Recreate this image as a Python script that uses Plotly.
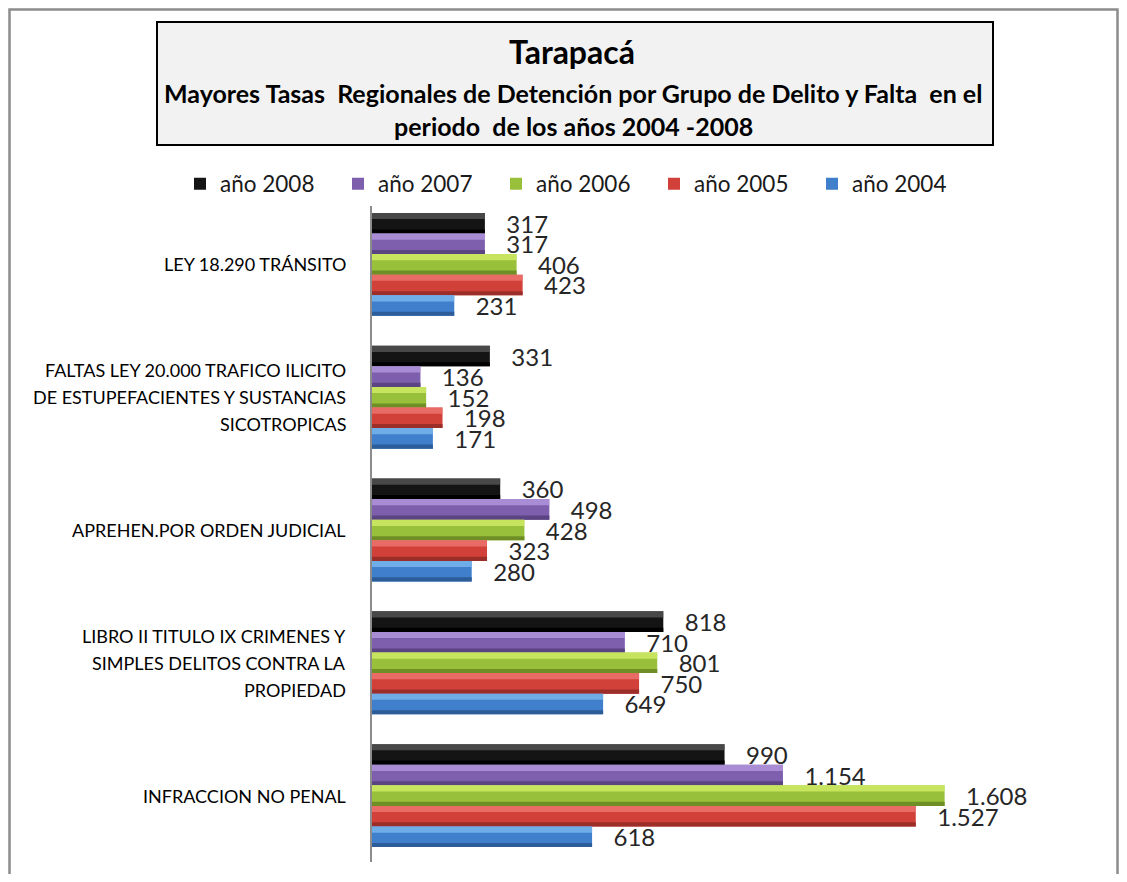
import plotly.graph_objects as go

# categories, top to bottom
categories = [
    "LEY 18.290 TRÁNSITO",
    "FALTAS LEY 20.000 TRAFICO ILICITO\nDE ESTUPEFACIENTES Y SUSTANCIAS\nSICOTROPICAS",
    "APREHEN.POR ORDEN JUDICIAL",
    "LIBRO II TITULO IX CRIMENES Y\nSIMPLES DELITOS CONTRA LA\nPROPIEDAD",
    "INFRACCION NO PENAL",
]
years = ["año 2008", "año 2007", "año 2006", "año 2005", "año 2004"]

v2008 = [317, 331, 360, 818, 990]
v2007 = [317, 136, 498, 710, 1154]
v2006 = [406, 152, 428, 801, 1608]
v2005 = [423, 198, 323, 750, 1527]
v2004 = [231, 171, 280, 649, 618]
series = [v2008, v2007, v2006, v2005, v2004]

# (light top, body, dark bottom) to fake the bevelled Excel bars
colors = [
    ("#5a5a5a", "#141414", "#000000"),
    ("#b79ce0", "#7e5fae", "#5b4482"),
    ("#d6f06a", "#98c03a", "#6f8f26"),
    ("#f07a74", "#d2403a", "#9c2e2a"),
    ("#7fbcf2", "#3f7fcc", "#2c5d99"),
]

FONT = "Lato, 'Open Sans', sans-serif"
PAGE = 8  # body margin of the html page
W, H = 1127 - 2 * PAGE, 882 - 2 * PAGE
# plot area in page pixels
PL, PR, PT, PB = 372, 1060, 198, 862
L, T = PL - PAGE, PT - PAGE
R, B = W - (PR - PAGE), H - (PB - PAGE)
PW, PH = PR - PL, PB - PT


def px_x(p):
    return (p - PL) / PW


def px_y(p):
    return (PB - p) / PH


keys = list(range(len(categories)))
bw = 0.155
fig = go.Figure()
for j, (name, vals, (c_hi, c_mid, c_lo)) in enumerate(zip(years, series, colors)):
    off = -2.5 * bw + j * bw
    fig.add_trace(go.Bar(
        y=keys, x=vals, orientation="h", name=name,
        offset=off, width=bw,
        marker=dict(color=c_mid, line=dict(width=0)),
        text=vals, texttemplate="\u00a0\u00a0\u00a0%{x:,}",
        textposition="outside", cliponaxis=False, constraintext="none",
        textfont=dict(family=FONT, size=24, color="#262626"),
        hoverinfo="skip",
    ))
    # highlight and shadow strips
    fig.add_trace(go.Bar(
        y=keys, x=vals, orientation="h", offset=off, width=bw * 0.3,
        marker=dict(color=c_hi, opacity=0.75, line=dict(width=0)),
        showlegend=False, hoverinfo="skip",
    ))
    fig.add_trace(go.Bar(
        y=keys, x=vals, orientation="h", offset=off + bw * 0.8, width=bw * 0.2,
        marker=dict(color=c_lo, line=dict(width=0)),
        showlegend=False, hoverinfo="skip",
    ))

annotations = []
for i, cat in enumerate(categories):
    lines = cat.split("\n")
    mid = (len(lines) - 1) / 2
    for k, line in enumerate(lines):
        annotations.append(dict(
            x=px_x(348), xref="paper", xanchor="right",
            y=i, yref="y", yshift=(mid - k) * 27,
            text=line, showarrow=False,
            font=dict(family=FONT, size=18, color="#000"),
        ))

# title block
annotations += [
    dict(x=px_x(572), y=px_y(52), xref="paper", yref="paper", showarrow=False,
         xanchor="center", yanchor="middle",
         text="<b>Tarapacá</b>", font=dict(family=FONT, size=32, color="#000")),
    dict(x=px_x(573), y=px_y(93), xref="paper", yref="paper", showarrow=False,
         xanchor="center", yanchor="middle",
         text="<b>Mayores Tasas  Regionales de Detención por Grupo de Delito y Falta  en el</b>",
         font=dict(family=FONT, size=25, color="#000")),
    dict(x=px_x(573), y=px_y(126), xref="paper", yref="paper", showarrow=False,
         xanchor="center", yanchor="middle",
         text="<b>periodo  de los años 2004 -2008</b>",
         font=dict(family=FONT, size=25, color="#000")),
]

shapes = [
    dict(type="rect", xref="paper", yref="paper",
         x0=px_x(157), x1=px_x(993), y0=px_y(145), y1=px_y(22),
         fillcolor="#f2f2f2", line=dict(color="#000", width=2), layer="below"),
    dict(type="rect", xref="paper", yref="paper",
         x0=px_x(9.5), x1=px_x(1117.5), y0=px_y(900), y1=px_y(9.5),
         line=dict(color="#8c8c8c", width=2.5)),
]

fig.update_layout(
    width=W, height=H,
    margin=dict(l=L, r=R, t=T, b=B),
    paper_bgcolor="white", plot_bgcolor="white",
    barmode="overlay", separators=",.",
    font=dict(family=FONT, color="#000"),
    showlegend=True,
    legend=dict(
        orientation="h", x=px_x(180), xanchor="left",
        y=px_y(184), yanchor="middle",
        entrywidth=113, entrywidthmode="pixels",
        font=dict(family=FONT, size=22.5, color="#1a1a1a"),
        traceorder="normal",
    ),
    xaxis=dict(range=[0, 1932], visible=False, showgrid=False),
    yaxis=dict(range=[4.5, -0.5], showticklabels=False, showgrid=False,
               zeroline=False, showline=True, linecolor="#8c8c8c", linewidth=1.5,
               ticks=""),
    annotations=annotations,
    shapes=shapes,
)

fig.write_html("out.html")
